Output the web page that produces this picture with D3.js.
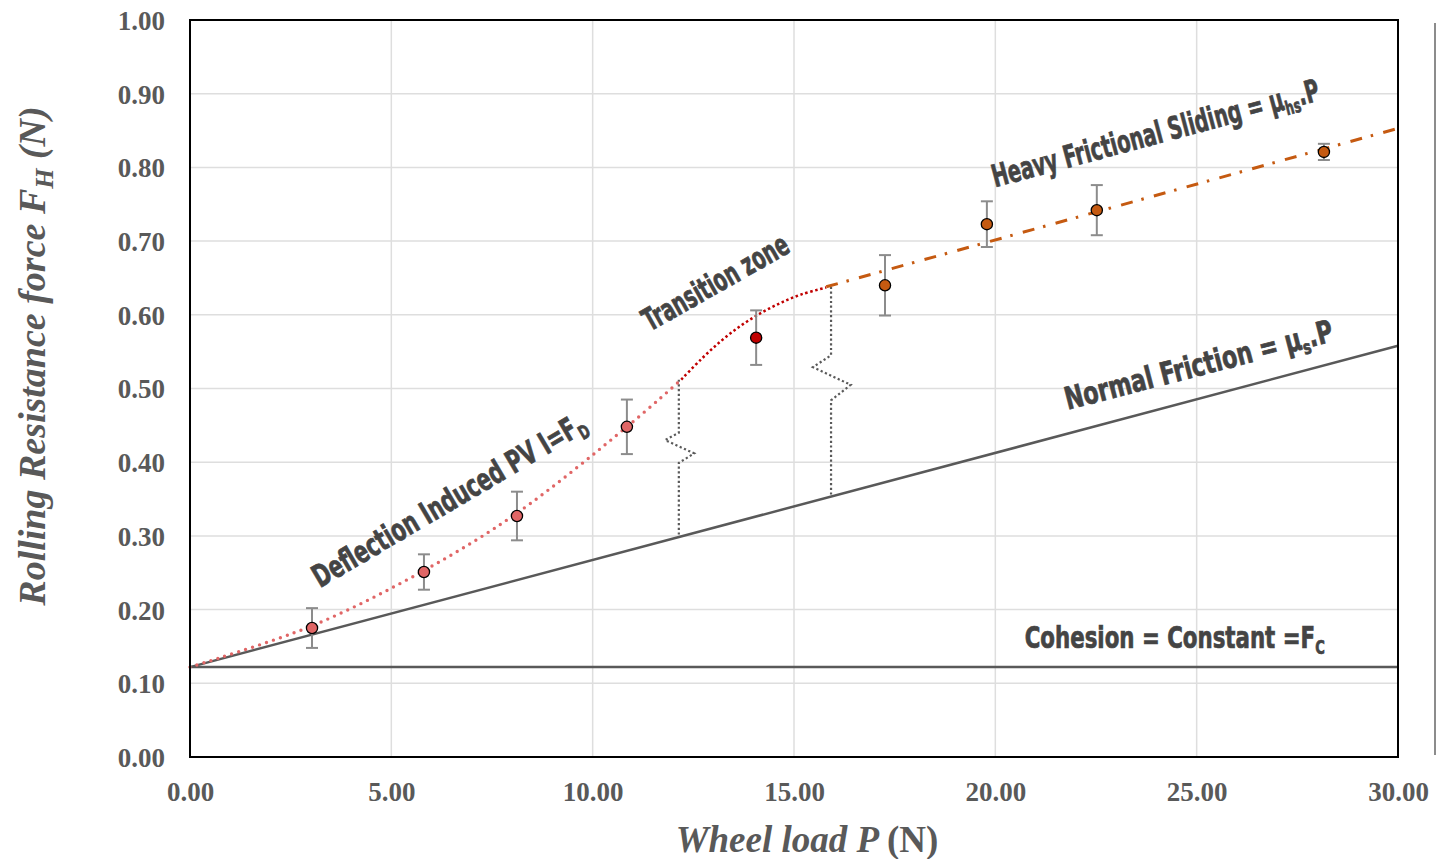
<!DOCTYPE html>
<html>
<head>
<meta charset="utf-8">
<script src="https://cdn.jsdelivr.net/npm/d3@7"></script>
<style>
  html, body { margin: 0; padding: 0; background: #ffffff; }
  svg { display: block; }
</style>
</head>
<body>
<svg id="chart" width="1436" height="859"></svg>
<script>
// ---------------- data ----------------
const xTicks = [0, 5, 10, 15, 20, 25, 30];
const yTicks = [0, 0.1, 0.2, 0.3, 0.4, 0.5, 0.6, 0.7, 0.8, 0.9, 1.0];

// measured points
const loadP   = [3.03, 5.81, 8.12, 10.85, 14.06, 17.26, 19.79, 22.52, 28.16];
const forceFH = [0.175, 0.251, 0.327, 0.448, 0.569, 0.640, 0.723, 0.742, 0.821];
const errFH   = [0.027, 0.024, 0.033, 0.037, 0.037, 0.041, 0.031, 0.034, 0.011];
const regime  = ["deflection", "deflection", "deflection", "deflection", "transition",
                 "sliding", "sliding", "sliding", "sliding"];

// model lines
const cohesionFc = 0.122;
const normalX = [0, 30];
const normalY = [0.122, 0.558];
const deflX = [0, 3.03, 5.81, 8.12, 10.85, 12.2];
const deflY = [0.122, 0.178, 0.253, 0.331, 0.448, 0.512];
const transX = [12.2, 12.7, 13.2, 13.7, 14.2, 14.7, 15.2, 15.8];
const transY = [0.512, 0.540, 0.565, 0.586, 0.603, 0.617, 0.628, 0.637];
const heavyX = [15.8, 30];
const heavyY = [0.638, 0.853];

// break (zig-zag) markers
const break1X = [12.14, 12.14, 11.80, 12.52, 12.14, 12.14];
const break1Y = [0.512, 0.440, 0.430, 0.412, 0.399, 0.298];
const break2X = [15.92, 15.92, 15.47, 16.41, 15.92, 15.92];
const break2Y = [0.638, 0.545, 0.529, 0.505, 0.484, 0.353];

// annotations
const labelText   = ["Deflection Induced PV I=F", "Transition zone", "Heavy Frictional Sliding = \u03bc", "Normal Friction = \u03bc", "Cohesion = Constant =F"];
const labelSub    = ["D", "", "hs", "s", "C"];
const labelSuffix = ["", "", ".P", ".P", ""];
const labelX      = [3.23, 11.42, 19.99, 21.80, 20.73];
const labelY      = [0.229, 0.577, 0.773, 0.471, 0.148];
const labelAngle  = [-30.5, -29.5, -15, -14.5, 0];
const labelLen    = [312, 163, 338, 276, 300];

const regimeColor = { deflection: "#e06666", transition: "#c00000", sliding: "#c55a11" };

// ---------------- drawing ----------------
const svg = d3.select("#chart");
const x = d3.scaleLinear().domain([0, 30]).range([190, 1398]);
const y = d3.scaleLinear().domain([0, 1]).range([757, 20]);

// grid
svg.append("g").selectAll("line").data(yTicks.slice(1, -1)).join("line")
  .attr("x1", x(0)).attr("x2", x(30)).attr("y1", d => y(d)).attr("y2", d => y(d))
  .attr("stroke", "#dedede").attr("stroke-width", 1.5);
svg.append("g").selectAll("line").data(xTicks.slice(1, -1)).join("line")
  .attr("y1", y(0)).attr("y2", y(1)).attr("x1", d => x(d)).attr("x2", d => x(d))
  .attr("stroke", "#dedede").attr("stroke-width", 1.5);

// axes (labels only)
const serif = "'Liberation Serif', 'Times New Roman', serif";
const yAxis = d3.axisLeft(y).tickValues(yTicks).tickFormat(d3.format(".2f")).tickSize(0).tickPadding(25);
const gy = svg.append("g").attr("transform", `translate(${x(0)},0)`).call(yAxis);
gy.select(".domain").remove();
gy.selectAll("text").attr("font-family", serif).attr("font-weight", "bold")
  .attr("font-size", 27).attr("fill", "#595959").attr("dy", "0.35em");

const xAxis = d3.axisBottom(x).tickValues(xTicks).tickFormat(d3.format(".2f")).tickSize(0).tickPadding(25);
const gx = svg.append("g").attr("transform", `translate(0,${y(0)})`).call(xAxis);
gx.select(".domain").remove();
gx.selectAll("text").attr("font-family", serif).attr("font-weight", "bold")
  .attr("font-size", 27).attr("fill", "#595959").attr("dy", "0.71em");

// axis titles
const yt = svg.append("text")
  .attr("transform", `translate(45,356) rotate(-90)`)
  .attr("text-anchor", "middle").attr("font-family", serif)
  .attr("font-weight", "bold").attr("font-style", "italic")
  .attr("font-size", 38).attr("fill", "#595959");
yt.append("tspan").text("Rolling Resistance force F");
yt.append("tspan").attr("font-size", 26).attr("dy", 8).text("H");
yt.append("tspan").attr("dy", -8).text(" (N)");

const xt = svg.append("text")
  .attr("x", 807).attr("y", 852)
  .attr("text-anchor", "middle").attr("font-family", serif)
  .attr("font-weight", "bold").attr("font-size", 37).attr("fill", "#595959");
xt.append("tspan").attr("font-style", "italic").text("Wheel load P ");
xt.append("tspan").text("(N)");

// cohesion & normal friction lines
svg.append("line")
  .attr("x1", x(0)).attr("x2", x(30)).attr("y1", y(cohesionFc)).attr("y2", y(cohesionFc))
  .attr("stroke", "#595959").attr("stroke-width", 2.5);
const line = d3.line().x(d => x(d[0])).y(d => y(d[1]));
svg.append("path").datum(d3.zip(normalX, normalY)).attr("d", line)
  .attr("fill", "none").attr("stroke", "#595959").attr("stroke-width", 2.5);

// break markers
[[break1X, break1Y], [break2X, break2Y]].forEach(([bx, by]) => {
  svg.append("path").datum(d3.zip(bx, by)).attr("d", line)
    .attr("fill", "none").attr("stroke", "#595959").attr("stroke-width", 2.2)
    .attr("stroke-dasharray", "2.2,2.5");
});

// curves
const smooth = d3.line().x(d => x(d[0])).y(d => y(d[1])).curve(d3.curveCatmullRom.alpha(0.5));
svg.append("path").datum(d3.zip(deflX, deflY)).attr("d", smooth)
  .attr("fill", "none").attr("stroke", "#e06666").attr("stroke-width", 3.4)
  .attr("stroke-linecap", "round").attr("stroke-dasharray", "0,7.3");
svg.append("path").datum(d3.zip(transX, transY)).attr("d", smooth)
  .attr("fill", "none").attr("stroke", "#c00000").attr("stroke-width", 2.5)
  .attr("stroke-dasharray", "2.5,2.6");
svg.append("path").datum(d3.zip(heavyX, heavyY)).attr("d", line)
  .attr("fill", "none").attr("stroke", "#c55a11").attr("stroke-width", 3)
  .attr("stroke-dasharray", "12,9,2.5,10.5");

// error bars
const pts = d3.range(loadP.length).map(i => ({ p: loadP[i], f: forceFH[i], e: errFH[i], r: regime[i] }));
const eb = svg.append("g").attr("stroke", "#8c8c8c").attr("stroke-width", 2);
eb.selectAll("line.stem").data(pts).join("line").attr("class", "stem")
  .attr("x1", d => x(d.p)).attr("x2", d => x(d.p))
  .attr("y1", d => y(d.f + d.e)).attr("y2", d => y(d.f - d.e));
eb.selectAll("line.capT").data(pts).join("line").attr("class", "capT")
  .attr("x1", d => x(d.p) - 6).attr("x2", d => x(d.p) + 6)
  .attr("y1", d => y(d.f + d.e)).attr("y2", d => y(d.f + d.e));
eb.selectAll("line.capB").data(pts).join("line").attr("class", "capB")
  .attr("x1", d => x(d.p) - 6).attr("x2", d => x(d.p) + 6)
  .attr("y1", d => y(d.f - d.e)).attr("y2", d => y(d.f - d.e));

// points
svg.append("g").selectAll("circle").data(pts).join("circle")
  .attr("cx", d => x(d.p)).attr("cy", d => y(d.f)).attr("r", 5.6)
  .attr("fill", d => regimeColor[d.r]).attr("stroke", "#000").attr("stroke-width", 1.3);

// annotation labels
const cond = "'DejaVu Sans Condensed', 'DejaVu Sans', sans-serif";
labelText.forEach((t, i) => {
  const tx = svg.append("text")
    .attr("transform", `translate(${x(labelX[i])},${y(labelY[i])}) rotate(${labelAngle[i]})`)
    .attr("font-family", cond).attr("font-stretch", "condensed").attr("font-weight", "bold")
    .attr("font-size", 31).attr("fill", "#444444")
    .attr("stroke", "#444444").attr("stroke-width", 0.7)
    .attr("textLength", labelLen[i]).attr("lengthAdjust", "spacingAndGlyphs");
  tx.append("tspan").text(t);
  if (labelSub[i]) tx.append("tspan").attr("font-size", 19).attr("dy", 6).text(labelSub[i]);
  if (labelSuffix[i]) tx.append("tspan").attr("dy", -6).text(labelSuffix[i]);
});

// frame
svg.append("rect").attr("x", x(0)).attr("y", y(1))
  .attr("width", x(30) - x(0)).attr("height", y(0) - y(1))
  .attr("fill", "none").attr("stroke", "#000").attr("stroke-width", 2);

// edge of neighbouring panel
svg.append("line").attr("x1", 1435).attr("x2", 1435).attr("y1", 23).attr("y2", 755)
  .attr("stroke", "#8c8c8c").attr("stroke-width", 2);
</script>
</body>
</html>
